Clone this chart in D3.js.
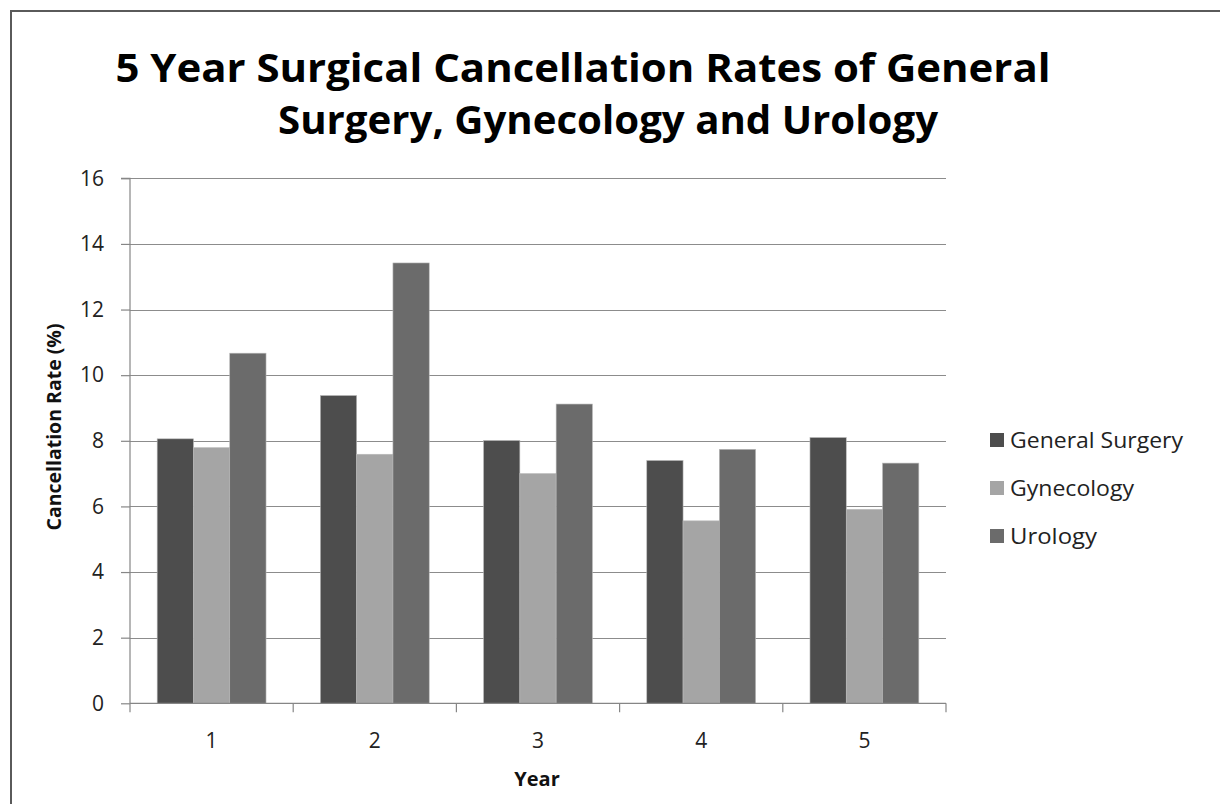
<!DOCTYPE html>
<html><head><meta charset="utf-8">
<script src="https://cdn.jsdelivr.net/npm/d3@7"></script>
<style>body{margin:0;background:#fff}svg{display:block}</style>
</head><body>
<script>
const years = ["1","2","3","4","5"];
const seriesNames = ["General Surgery","Gynecology","Urology"];
const generalSurgery = [8.06, 9.38, 8.01, 7.40, 8.10];
const gynecology = [7.79, 7.59, 7.00, 5.56, 5.91];
const urology = [10.67, 13.42, 9.12, 7.74, 7.32];
const yTicks = [0,2,4,6,8,10,12,14,16];
const colors = ["#4d4d4d","#a5a5a5","#6b6b6b"];
const titleLines = ["5 Year Surgical Cancellation Rates of General","Surgery, Gynecology and Urology"];

(function(){
const seriesValues = [generalSurgery, gynecology, urology];
const W=1220,H=804;
const svg=d3.select("body").append("svg").attr("width",W).attr("height",H);
const font="'Open Sans', 'Noto Sans', sans-serif";

// border
svg.append("path").attr("d","M11,804 V11 H1220").attr("fill","none").attr("stroke","#5a5a5a").attr("stroke-width",2);

const pL=130,pR=946,pT=178.3,pB=703.3;
const x0=d3.scaleBand().domain(years).range([pL,pR]).paddingInner(0.333).paddingOuter(0.1665);
const x1=d3.scaleBand().domain(seriesNames).range([0,x0.bandwidth()]);
const y=d3.scaleLinear().domain([0,16]).range([pB,pT]);

// gridlines
svg.append("g").selectAll("line").data(yTicks.filter(d=>d>0)).join("line")
 .attr("x1",pL).attr("x2",pR).attr("y1",d=>Math.round(y(d))+0.5).attr("y2",d=>Math.round(y(d))+0.5)
 .attr("stroke","#8c8c8c").attr("stroke-width",1.2);

// bars
const g=svg.append("g");
years.forEach((yr,i)=>{
  seriesNames.forEach((s,j)=>{
    const v=seriesValues[j][i];
    g.append("rect").attr("x",x0(yr)+x1(s)).attr("width",x1.bandwidth())
     .attr("y",y(v)).attr("height",y(0)-y(v)).attr("fill",colors[j])
     .attr("stroke","#b8b8b8").attr("stroke-width",0.6);
  });
});

// y axis
const yAxis=d3.axisLeft(y).tickValues(yTicks).tickSize(9).tickPadding(17).tickFormat(d3.format("d"));
const ya=svg.append("g").attr("transform",`translate(${pL},0)`).call(yAxis);
ya.select(".domain").attr("stroke","#868686").attr("stroke-width",1.2).attr("d",`M-9,${pT}H0V${pB}`);
ya.selectAll(".tick line").attr("stroke","#868686").attr("stroke-width",1.2);
ya.selectAll(".tick text").attr("font-family",font).attr("font-size",21).attr("fill","#222");

// x axis
const xb=d3.scaleLinear().domain([0,years.length]).range([pL,pR]);
const xa=svg.append("g");
xa.append("line").attr("x1",pL).attr("x2",pR).attr("y1",pB).attr("y2",pB).attr("stroke","#868686").attr("stroke-width",1.2);
xa.selectAll(".tk").data(d3.range(years.length+1)).join("line").attr("class","tk")
 .attr("x1",d=>xb(d)).attr("x2",d=>xb(d)).attr("y1",pB).attr("y2",pB+9).attr("stroke","#868686").attr("stroke-width",1.2);
xa.selectAll("text").data(years).join("text").attr("x",d=>x0(d)+x0.bandwidth()/2).attr("y",pB+45)
 .attr("text-anchor","middle").attr("font-family",font).attr("font-size",21).attr("fill","#222").text(d=>d);

// axis titles
svg.append("text").attr("x",537).attr("y",786).attr("text-anchor","middle").attr("font-family",font)
 .attr("font-weight","bold").attr("font-size",20).attr("fill","#111").text("Year");
svg.append("text").attr("transform","translate(61,427) rotate(-90)").attr("text-anchor","middle").attr("font-family",font)
 .attr("font-weight","bold").attr("font-size",20).attr("fill","#111").attr("textLength",207).attr("lengthAdjust","spacingAndGlyphs").text("Cancellation Rate (%)");

// title
const tl=[[82,583,935],[134,608,660]];
titleLines.forEach((t,i)=>{
  svg.append("text").attr("x",tl[i][1]).attr("y",tl[i][0]).attr("text-anchor","middle").attr("font-family",font)
   .attr("font-weight","bold").attr("font-size",40).attr("fill","#000")
   .attr("textLength",tl[i][2]).attr("lengthAdjust","spacingAndGlyphs").text(t);
});

// legend
const lg=svg.append("g");
const legLen=[173,124,87];
seriesNames.forEach((s,j)=>{
  const cy=440+j*48;
  lg.append("rect").attr("x",990).attr("y",cy-7).attr("width",14).attr("height",14).attr("fill",colors[j]);
  lg.append("text").attr("x",1010).attr("y",cy+8).attr("font-family",font).attr("font-size",21).attr("fill","#222")
   .attr("textLength",legLen[j]).attr("lengthAdjust","spacingAndGlyphs").text(s);
});
})();
</script>
</body></html>
